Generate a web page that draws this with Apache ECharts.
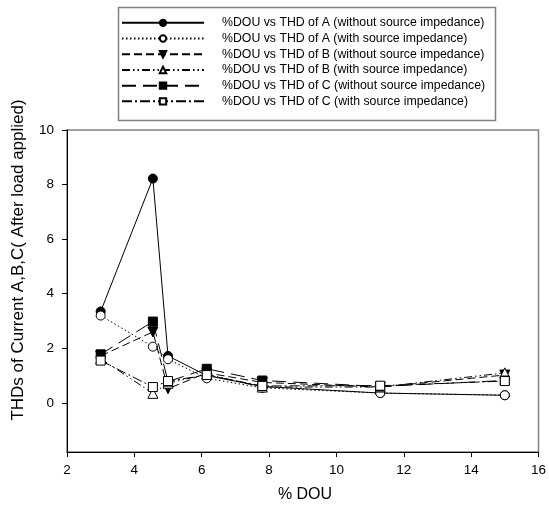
<!DOCTYPE html>
<html>
<head>
<meta charset="utf-8">
<script src="https://cdn.jsdelivr.net/npm/echarts@6/dist/echarts.min.js"></script>
<style>html,body{margin:0;padding:0;background:#fff;}#c{width:549px;height:507px;}</style>
</head>
<body>
<div id="c"></div>
<script>
var douValues = [3, 4.55, 5, 6.15, 7.8, 11.3, 15];
var thdAWithout = [3.35, 8.22, 1.72, 1.0, 0.6, 0.36, 0.28];
var thdAWith    = [3.2, 2.06, 1.6, 0.9, 0.55, 0.36, 0.28];
var thdBWithout = [1.72, 2.6, 0.52, 1.1, 0.75, 0.58, 1.02];
var thdBWith    = [1.62, 0.35, 0.72, 1.05, 0.58, 0.58, 1.1];
var thdCWithout = [1.78, 2.98, 0.78, 1.25, 0.82, 0.6, 0.82];
var thdCWith    = [1.55, 0.58, 0.8, 1.02, 0.62, 0.63, 0.8];
var seriesNames = [
  '%DOU vs THD of A (without source impedance)',
  '%DOU vs THD of A (with source impedance)',
  '%DOU vs THD of B (without source impedance)',
  '%DOU vs THD of B (with source impedance)',
  '%DOU vs THD of C (without source impedance)',
  '%DOU vs THD of C (with source impedance)'
];
var yTickValues = [0, 2, 4, 6, 8, 10];
var xAxisTitle = '% DOU';
var yAxisTitle = 'THDs of Current A,B,C( After load applied)';

function pairs(ys) { return douValues.map(function (x, i) { return [x, ys[i]]; }); }
var FONT = '"Liberation Sans", Arial, sans-serif';

var styles = [
  { data: thdAWithout, symbol: 'circle', size: 9, rot: 0, type: 'solid', fill: '#000' },
  { data: thdAWith, symbol: 'circle', size: 9, rot: 0, type: [1.5, 2.5], fill: '#fff' },
  { data: thdBWithout, symbol: 'triangle', size: 10, rot: 180, type: [8, 4], fill: '#000' },
  { data: thdBWith, symbol: 'triangle', size: 10, rot: 0, type: [8, 3, 1.5, 3, 1.5, 3], fill: '#fff' },
  { data: thdCWithout, symbol: 'rect', size: 9, rot: 0, type: [14, 7], fill: '#000' },
  { data: thdCWith, symbol: 'rect', size: 9, rot: 0, type: [10, 3, 2, 3], fill: '#fff' }
];

var series = styles.map(function (s, i) {
  return {
    name: seriesNames[i],
    type: 'line',
    data: pairs(s.data),
    symbol: s.symbol,
    symbolSize: s.size,
    symbolRotate: s.rot,
    showAllSymbol: true,
    animation: false,
    lineStyle: { color: '#000', width: 1, type: s.type },
    itemStyle: { color: s.fill, borderColor: '#000', borderWidth: 1, opacity: 1 },
    emphasis: { disabled: true },
    z: 2 + i
  };
});

var chart = echarts.init(document.getElementById('c'), null, { renderer: 'canvas' });
chart.setOption({
  backgroundColor: '#fff',
  animation: false,
  grid: { left: 67, right: 6, top: 130, bottom: 55, show: true, borderColor: '#808080', borderWidth: 1.5, backgroundColor: 'transparent' },
  legend: {
    data: seriesNames,
    orient: 'vertical',
    left: 121,
    top: 15,
    itemWidth: 82,
    itemHeight: 8,
    itemGap: 0,
    padding: 0,
    selectedMode: false,
    textStyle: { fontFamily: FONT, fontSize: 12.3, color: '#000', lineHeight: 15.7, padding: [0, 0, 0, 13] }
  },
  xAxis: {
    type: 'value', min: 2, max: 16, interval: 2,
    axisLine: { show: true, onZero: false, lineStyle: { color: '#000', width: 1 } },
    axisTick: { show: true, inside: false, length: 5, lineStyle: { color: '#000' } },
    axisLabel: { fontFamily: FONT, fontSize: 13.5, color: '#000', margin: 11 },
    splitLine: { show: false }
  },
  yAxis: {
    type: 'value', min: -1.8, max: 10,
    axisLine: { show: true, onZero: false, lineStyle: { color: '#000', width: 1 } },
    axisTick: { show: true, inside: false, length: 5, lineStyle: { color: '#000' }, customValues: yTickValues },
    axisLabel: { fontFamily: FONT, fontSize: 13.5, color: '#000', margin: 13, customValues: yTickValues },
    splitLine: { show: false }
  },
  graphic: [
    { type: 'rect', left: 116, top: 5, shape: { width: 377, height: 113 }, style: { fill: 'none', stroke: '#808080', lineWidth: 1.5 }, z: 100 },
    { type: 'text', x: 305, y: 495, style: { text: xAxisTitle, font: '16px ' + FONT, fill: '#000', align: 'center', verticalAlign: 'middle' } },
    { type: 'text', x: 18, y: 260, rotation: Math.PI / 2, style: { text: yAxisTitle, font: '17px ' + FONT, fill: '#000', align: 'center', verticalAlign: 'middle' } }
  ],
  series: series
});
</script>
</body>
</html>
